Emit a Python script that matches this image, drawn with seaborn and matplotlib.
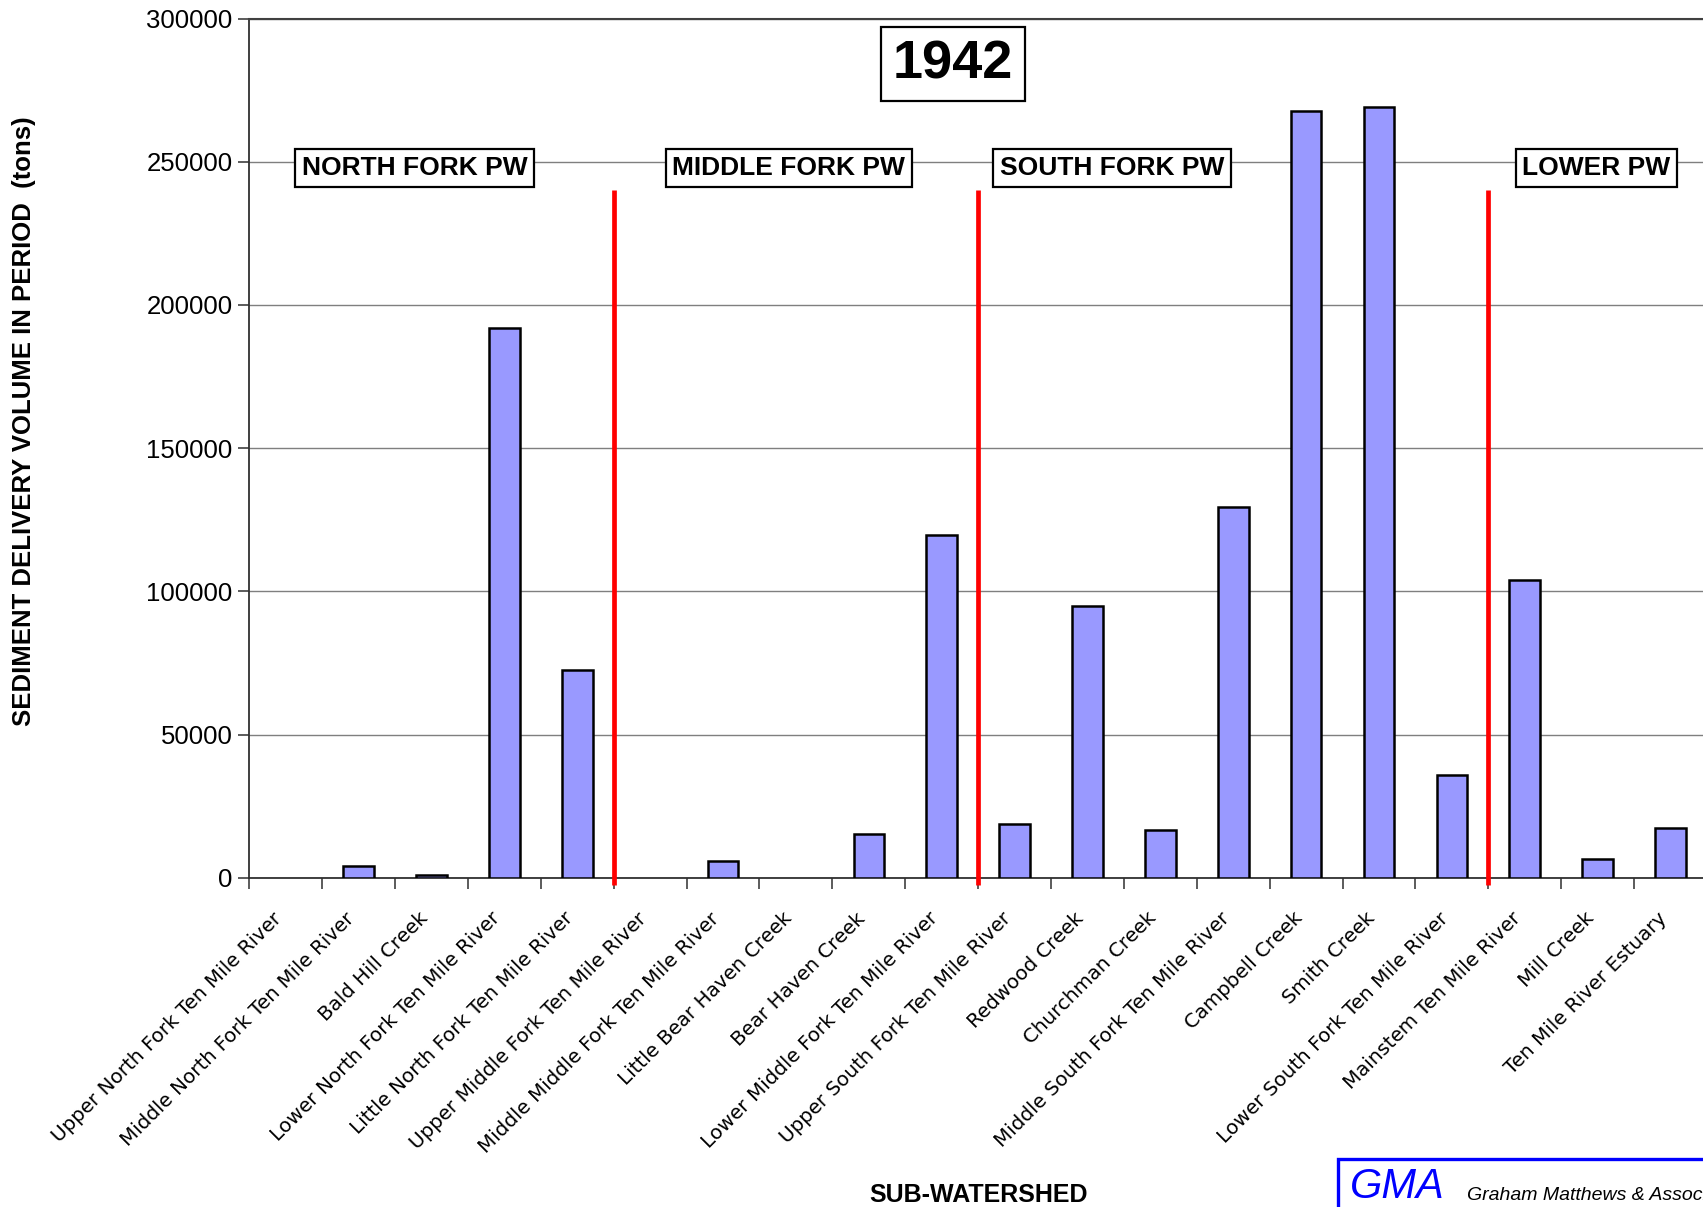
import matplotlib
matplotlib.use("Agg")
import matplotlib.pyplot as plt
import seaborn as sns
import pandas as pd
from matplotlib.patches import Rectangle

# ---------------- data ----------------
categories = [
    "Upper North Fork Ten Mile River",
    "Middle North Fork Ten Mile River",
    "Bald Hill Creek",
    "Lower North Fork Ten Mile River",
    "Little North Fork Ten Mile River",
    "Upper Middle Fork Ten Mile River",
    "Middle Middle Fork Ten Mile River",
    "Little Bear Haven Creek",
    "Bear Haven Creek",
    "Lower Middle Fork Ten Mile River",
    "Upper South Fork Ten Mile River",
    "Redwood Creek",
    "Churchman Creek",
    "Middle South Fork Ten Mile River",
    "Campbell Creek",
    "Smith Creek",
    "Lower South Fork Ten Mile River",
    "Mainstem Ten Mile River",
    "Mill Creek",
    "Ten Mile River Estuary",
]
sediment_tons = [0, 4100, 900, 192000, 72400, 0, 5800, 0, 15100, 119800,
                 18600, 94800, 16600, 129300, 267700, 269200, 36000, 103900,
                 6600, 17400]
group_names = ["NORTH FORK PW", "MIDDLE FORK PW", "SOUTH FORK PW", "LOWER PW"]
group_label_x = [1.77, 6.90, 11.34, 17.98]
group_boundaries = [4.5, 9.5, 16.5]
year_label = "1942"
y_ticks = [0, 50000, 100000, 150000, 200000, 250000, 300000]

df = pd.DataFrame({"subwatershed": categories, "tons": sediment_tons})

# ---------------- figure ----------------
sns.set_style("white")
plt.rcParams["font.family"] = ["Liberation Sans", "DejaVu Sans"]
plt.rcParams["text.color"] = "black"
plt.rcParams["axes.labelcolor"] = "black"
plt.rcParams["xtick.color"] = "black"
plt.rcParams["ytick.color"] = "black"

W, H = 1703, 1207
fig = plt.figure(figsize=(W / 100, H / 100), dpi=100)
ax_left = 249.3 / W
ax_right = 1707 / W
ax_bottom = (H - 877.7) / H
ax_top = (H - 18.5) / H
ax = fig.add_axes([ax_left, ax_bottom, ax_right - ax_left, ax_top - ax_bottom])

sns.barplot(data=df, x="subwatershed", y="tons", color="#9999FF",
            saturation=1, edgecolor="black", linewidth=1.8, width=0.42,
            ax=ax, zorder=3)
# zero-height bars are not drawn in the original
for p in ax.patches:
    if p.get_height() == 0:
        p.set_linewidth(0)
        p.set_visible(False)

ax.set_xlim(-0.5, len(categories) - 0.5)
ax.set_ylim(0, 300000)
ax.set_yticks(y_ticks)
ax.set_yticklabels([str(v) for v in y_ticks], fontsize=18.5,
                   family="Liberation Sans", color="black")
ax.yaxis.grid(True, color="#7f7f7f", linewidth=1.0, zorder=0)
ax.xaxis.grid(False)
ax.set_axisbelow(True)

# tick labels at category centers, tick marks at boundaries
ax.set_xticks(range(len(categories)))
ax.set_xticklabels(categories, rotation=45, ha="right", va="bottom",
                   rotation_mode="anchor", fontsize=14.3,
                   family="DejaVu Sans", color="black")
ax.tick_params(axis="x", which="major", length=0, pad=32)
ax.set_xticks([i - 0.5 for i in range(len(categories) + 1)], minor=True)
ax.tick_params(axis="x", which="minor", length=8, width=1.2,
               color="#404040", direction="out", bottom=True)
ax.tick_params(axis="y", which="major", length=8, width=1.2,
               color="#404040", direction="out", left=True, pad=4)

for s in ["left", "bottom"]:
    ax.spines[s].set_color("#303030")
    ax.spines[s].set_linewidth(1.3)
ax.spines["top"].set_color("#404040")
ax.spines["top"].set_linewidth(1.5)
ax.spines["right"].set_visible(False)

ax.set_xlabel("SUB-WATERSHED", fontsize=18, fontweight="bold",
              family="Liberation Sans", color="black")
ax.xaxis.set_label_coords(0.5, -0.355)
ax.set_ylabel("SEDIMENT DELIVERY VOLUME IN PERIOD  (tons)", fontsize=18.5,
              fontweight="bold", family="Liberation Sans", color="black")
ax.yaxis.set_label_coords(-0.1463, 0.5315)

# red separators between planning watersheds
for xb in group_boundaries:
    ax.plot([xb, xb], [-2500, 240000], color="red", linewidth=3.4,
            clip_on=False, zorder=4, solid_capstyle="butt")

# group labels
box = dict(boxstyle="square,pad=0.25", facecolor="white",
           edgecolor="black", linewidth=1.6)
for name, gx in zip(group_names, group_label_x):
    ax.text(gx, 247800, name, ha="center", va="center", fontsize=19,
            fontweight="bold", family="Liberation Sans", color="black",
            bbox=box, zorder=5)

ax.text(9.15, 284100, year_label, ha="center", va="center", fontsize=39,
        fontweight="bold", family="Liberation Sans", color="black",
        bbox=dict(boxstyle="square,pad=0.22", facecolor="white",
                  edgecolor="black", linewidth=1.6), zorder=5)

# GMA logo box (cut at the figure edge)
fig.patches.append(Rectangle((1338 / W, -0.05), 0.3, (H - 1159) / H + 0.05,
                             transform=fig.transFigure, fill=False,
                             edgecolor="blue", linewidth=2.4))
fig.text(1350 / W, 1 - 1187 / H, "GMA", color="blue", fontsize=30,
         style="italic", family="Liberation Sans", ha="left", va="center")
fig.text(1467 / W, 1 - 1195 / H, "Graham Matthews & Associates",
         color="black", fontsize=14, style="italic",
         family="Liberation Sans", ha="left", va="center")

fig.savefig("out.png", dpi=100)
